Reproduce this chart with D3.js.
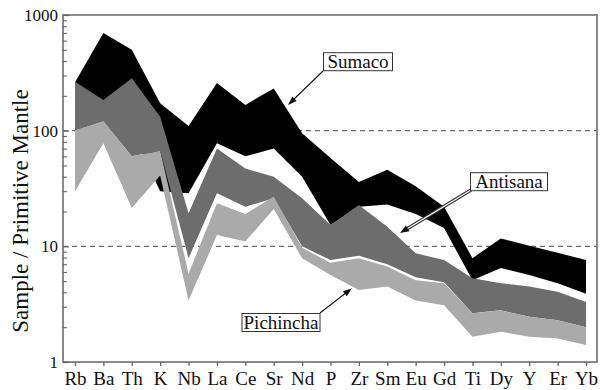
<!DOCTYPE html>
<html>
<head>
<meta charset="utf-8">
<script src="https://cdn.jsdelivr.net/npm/d3@7"></script>
<style>
  html, body { margin: 0; padding: 0; background: #fff; }
  svg { display: block; }
</style>
</head>
<body>
<svg id="chart" width="607" height="390"></svg>
<script>
const categories = ["Rb","Ba","Th","K","Nb","La","Ce","Sr","Nd","P","Zr","Sm","Eu","Gd","Ti","Dy","Y","Er","Yb"];

const sumacoMax    = [262, 700, 500, 173, 110, 258, 167, 232, 95, 58, 36, 46, 33, 22, 7.9, 11.7, 10.1, 8.8, 7.6];
const sumacoMin    = [110, 150, 100, 30, 28.7, 78, 60, 70, 40, 15.3, 22, 23, 19, 14.4, 5.1, 6.5, 5.65, 4.8, 3.9];
const antisanaMax  = [265, 184, 284, 132, 19.3, 70, 47, 40, 26, 15.3, 22.8, 14.8, 8.7, 7.6, 5.3, 4.8, 4.5, 4.05, 3.3];
const antisanaMin  = [100, 120, 60, 67, 7.9, 28.7, 22, 26, 10, 7.6, 8.3, 7.0, 5.4, 4.9, 2.64, 2.8, 2.46, 2.3, 2.0];
const pichinchaMax = [101, 120, 60, 67, 5.8, 23.6, 19, 27, 9.7, 7.2, 7.9, 6.7, 5.1, 4.8, 2.64, 2.8, 2.46, 2.3, 2.0];
const pichinchaMin = [30, 78, 21.5, 41, 3.4, 12.5, 11, 21, 7.9, 5.65, 4.2, 4.5, 3.4, 3.1, 1.65, 1.83, 1.65, 1.6, 1.4];

const yTickValues = [1, 10, 100, 1000];
const guideValues = [10, 100];

const seriesNames  = ["Sumaco", "Antisana", "Pichincha"];
const seriesColors = ["#000000", "#6d6d6d", "#aaaaaa"];

const FONT = "Liberation Serif";

const svg = d3.select("#chart");
const plot = { left: 63, right: 597, top: 15, bottom: 362 };

const x = d3.scalePoint().domain(categories).range([75, 586]);
const y = d3.scaleLog().domain([1, 1000]).range([plot.bottom, plot.top]);

// dashed guides
svg.append("g").selectAll("line").data(guideValues).join("line")
  .attr("x1", plot.left).attr("x2", plot.right)
  .attr("y1", d => y(d)).attr("y2", d => y(d))
  .attr("stroke", "#6a6a6a").attr("stroke-width", 1.3)
  .attr("stroke-dasharray", "5,4");

// bands
const bands = [
  { name: seriesNames[0], lo: sumacoMin, hi: sumacoMax, color: seriesColors[0] },
  { name: seriesNames[1], lo: antisanaMin, hi: antisanaMax, color: seriesColors[1] },
  { name: seriesNames[2], lo: pichinchaMin, hi: pichinchaMax, color: seriesColors[2] }
];
const area = d3.area()
  .x(d => x(d.cat))
  .y0(d => y(d.lo))
  .y1(d => y(d.hi));
svg.append("g").selectAll("path").data(bands).join("path")
  .attr("d", b => area(categories.map((c, i) => ({ cat: c, lo: b.lo[i], hi: b.hi[i] }))))
  .attr("fill", b => b.color);

// frame
svg.append("rect")
  .attr("x", plot.left).attr("y", plot.top)
  .attr("width", plot.right - plot.left).attr("height", plot.bottom - plot.top)
  .attr("fill", "none").attr("stroke", "#7d7d7d").attr("stroke-width", 1.8);

// x axis
const xAxis = d3.axisBottom(x).tickSizeInner(4).tickSizeOuter(0).tickPadding(6);
const gx = svg.append("g").attr("transform", `translate(0,${plot.bottom})`).call(xAxis)
  .attr("font-family", FONT).attr("font-size", 19);
gx.select(".domain").remove();
gx.selectAll(".tick line").attr("stroke", "#666").attr("stroke-width", 1.3);
gx.selectAll(".tick text").attr("fill", "#111");

// y axis major labels
const yAxis = d3.axisLeft(y).tickValues(yTickValues).tickFormat(d3.format("d"))
  .tickSizeInner(-6).tickSizeOuter(0).tickPadding(5);
const gy = svg.append("g").attr("transform", `translate(${plot.left},0)`).call(yAxis)
  .attr("font-family", FONT).attr("font-size", 17);
gy.select(".domain").remove();
gy.selectAll(".tick line").attr("stroke", "#666").attr("stroke-width", 1.2);
gy.selectAll(".tick text").attr("fill", "#111");

// y minor ticks
const minor = [];
for (let dec = 1; dec < 1000; dec *= 10) for (let k = 2; k <= 9; k++) minor.push(dec * k);
const yMinor = d3.axisLeft(y).tickValues(minor).tickFormat("").tickSizeInner(-4).tickSizeOuter(0);
const gym = svg.append("g").attr("transform", `translate(${plot.left},0)`).call(yMinor);
gym.select(".domain").remove();
gym.selectAll(".tick line").attr("stroke", "#666").attr("stroke-width", 1.1);

// y title
svg.append("text")
  .attr("transform", `translate(28,211) rotate(-90)`)
  .attr("text-anchor", "middle")
  .attr("font-family", FONT)
  .attr("font-size", 23)
  .attr("fill", "#111")
  .text("Sample / Primitive Mantle");

// annotations
function arrowHead(tipX, tipY, fromX, fromY, len, half) {
  const a = Math.atan2(tipY - fromY, tipX - fromX);
  const bx = tipX - len * Math.cos(a), by = tipY - len * Math.sin(a);
  const px = -Math.sin(a) * half, py = Math.cos(a) * half;
  return `M${tipX},${tipY}L${bx + px},${by + py}L${bx - px},${by - py}Z`;
}
function label(text, cx, cy, w) {
  const g = svg.append("g");
  g.append("rect").attr("x", cx - w / 2).attr("y", cy - 9).attr("width", w).attr("height", 18)
    .attr("fill", "#fff").attr("stroke", "#333").attr("stroke-width", 1);
  g.append("text").attr("x", cx).attr("y", cy + 6).attr("text-anchor", "middle")
    .attr("font-family", FONT).attr("font-size", 19).attr("fill", "#111").text(text);
}

// Sumaco
svg.append("line").attr("x1", 323).attr("y1", 71).attr("x2", 290).attr("y2", 103)
  .attr("stroke", "#111").attr("stroke-width", 1.1);
svg.append("path").attr("d", arrowHead(288, 105, 323, 71, 9, 3.2)).attr("fill", "#111");
label("Sumaco", 358, 61.7, 69);

// Antisana (hollow double line)
svg.append("line").attr("x1", 471).attr("y1", 190).attr("x2", 406).attr("y2", 229.5)
  .attr("stroke", "#333").attr("stroke-width", 3.4);
svg.append("line").attr("x1", 471).attr("y1", 190).attr("x2", 406).attr("y2", 229.5)
  .attr("stroke", "#fff").attr("stroke-width", 1.2);
svg.append("path").attr("d", arrowHead(400, 233, 471, 190, 9, 3.4)).attr("fill", "#111");
label("Antisana", 509, 181.7, 77);

// Pichincha
svg.append("line").attr("x1", 320).attr("y1", 313).attr("x2", 349).attr("y2", 290.5)
  .attr("stroke", "#111").attr("stroke-width", 1.1);
svg.append("path").attr("d", arrowHead(352, 288.3, 320, 313, 9, 3.2)).attr("fill", "#111");
label("Pichincha", 281, 322.5, 78);
</script>
</body>
</html>
